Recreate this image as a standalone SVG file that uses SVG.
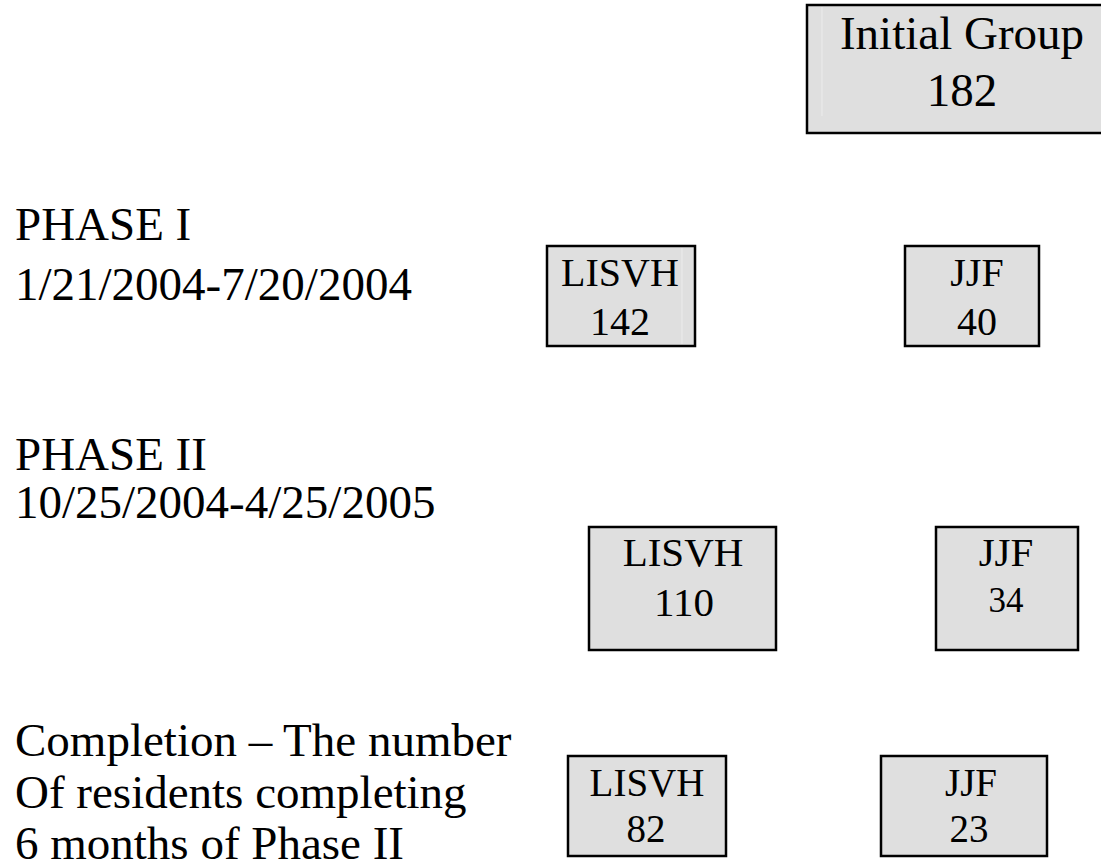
<svg xmlns="http://www.w3.org/2000/svg" width="1101" height="867" viewBox="0 0 1101 867">
<style>
.box{fill:#dfdfdf;stroke:#000;stroke-width:2.5}
.seam{stroke:#ececec;stroke-width:1}
.t{font-family:"Liberation Serif","Times New Roman",serif;fill:#000}
.lbl{font-size:47px}
.bx{font-size:40px;text-anchor:middle}
.big{font-size:47px;text-anchor:middle}
</style>
<rect width="1101" height="867" fill="#fff"/>
<g id="labels">
<text class="t lbl" x="15" y="240">PHASE I</text>
<text class="t lbl" x="15" y="300">1/21/2004-7/20/2004</text>
<text class="t lbl" x="15" y="470">PHASE II</text>
<text class="t lbl" x="15" y="518">10/25/2004-4/25/2005</text>
<text class="t lbl" x="15" y="756">Completion – The number</text>
<text class="t lbl" x="15" y="808">Of residents completing</text>
<text class="t lbl" x="15" y="859">6 months of Phase II</text>
</g>
<g id="initial">
<rect class="box" x="807" y="5" width="300" height="128"/>
<line class="seam" x1="822" y1="7" x2="822" y2="116"/>
<text class="t big" x="962" y="49">Initial Group</text>
<text class="t big" x="962" y="106">182</text>
</g>
<g id="p1-lisvh">
<rect class="box" x="547" y="246" width="148" height="100"/>
<line class="seam" x1="682" y1="248" x2="682" y2="344"/>
<text class="t bx" x="620" y="286">LISVH</text>
<text class="t bx" x="620" y="335">142</text>
</g>
<g id="p1-jjf">
<rect class="box" x="905" y="246" width="134" height="100"/>
<text class="t bx" x="977" y="286">JJF</text>
<text class="t bx" x="977" y="335">40</text>
</g>
<g id="p2-lisvh">
<rect class="box" x="589" y="527" width="187" height="123"/>
<text class="t bx" x="683" y="566" style="font-size:41px">LISVH</text>
<text class="t bx" x="684" y="616" style="font-size:41px">110</text>
</g>
<g id="p2-jjf">
<rect class="box" x="936" y="527" width="142" height="123"/>
<text class="t bx" x="1006" y="566" style="font-size:41px">JJF</text>
<text class="t bx" x="1006" y="612" style="font-size:35px">34</text>
</g>
<g id="c-lisvh">
<rect class="box" x="568" y="756" width="158" height="100"/>
<text class="t bx" x="647" y="796" style="font-size:39px">LISVH</text>
<text class="t bx" x="646" y="842" style="font-size:39px">82</text>
</g>
<g id="c-jjf">
<rect class="box" x="881" y="756" width="166" height="100"/>
<text class="t bx" x="971" y="796" style="font-size:39px">JJF</text>
<text class="t bx" x="969" y="842" style="font-size:39px">23</text>
</g>
<g id="connectors"></g>
</svg>
